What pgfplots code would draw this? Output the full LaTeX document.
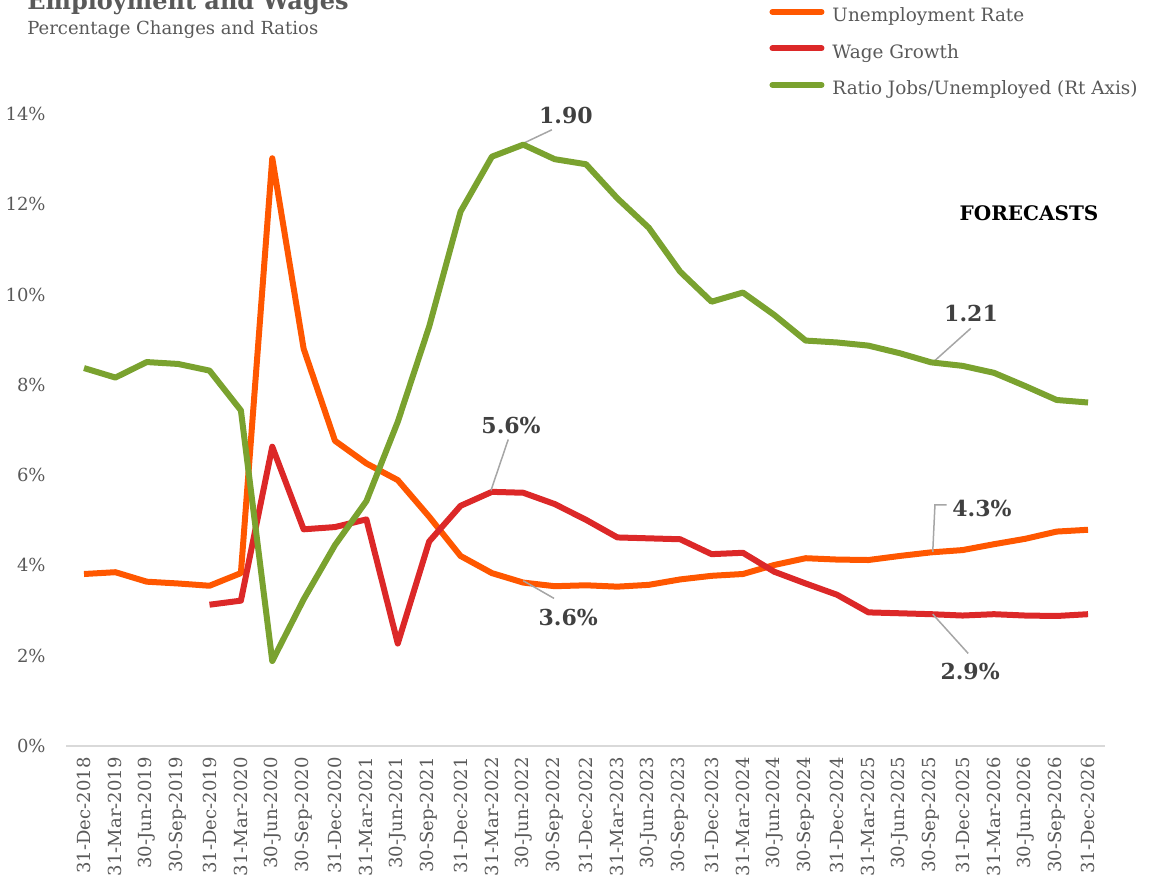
\documentclass[border=0pt]{standalone}
\usepackage{fontspec}
\setmainfont{DejaVu Serif}
\usepackage{pgfplots}
\pgfplotsset{compat=1.18}
\definecolor{unemp}{RGB}{255,87,0}
\definecolor{wage}{RGB}{220,40,40}
\definecolor{ratio}{RGB}{122,162,47}
\definecolor{txtgray}{RGB}{89,89,89}
\definecolor{axisgray}{RGB}{217,217,217}
\definecolor{leadgray}{RGB}{166,166,166}
\definecolor{lblgray}{RGB}{64,64,64}
\begin{document}
\begin{tikzpicture}
\useasboundingbox (0,0) rectangle (575pt,442.5pt);
\node[anchor=base west, inner sep=0pt, font=\bfseries\fontsize{12}{14}\selectfont, text=txtgray] at (13.5pt,437.5pt) {Employment and Wages};
\node[anchor=base west, inner sep=0pt, font=\fontsize{9}{11}\selectfont, text=txtgray] at (13.5pt,425pt) {Percentage Changes and Ratios};
\begin{axis}[
  at={(33pt,69.5pt)}, anchor=south west,
  scale only axis, width=519.5pt, height=316pt,
  xmin=-0.574, xmax=32.54, ymin=0, ymax=14,
  xtick={0,...,32},
  xticklabels={31-Dec-2018,31-Mar-2019,30-Jun-2019,30-Sep-2019,31-Dec-2019,31-Mar-2020,30-Jun-2020,30-Sep-2020,31-Dec-2020,31-Mar-2021,30-Jun-2021,30-Sep-2021,31-Dec-2021,31-Mar-2022,30-Jun-2022,30-Sep-2022,31-Dec-2022,31-Mar-2023,30-Jun-2023,30-Sep-2023,31-Dec-2023,31-Mar-2024,30-Jun-2024,30-Sep-2024,31-Dec-2024,31-Mar-2025,30-Jun-2025,30-Sep-2025,31-Dec-2025,31-Mar-2026,30-Jun-2026,30-Sep-2026,31-Dec-2026},
  ytick={0,2,...,14},
  yticklabel={\pgfmathprintnumber{\tick}\%},
  /pgf/number format/assume math mode=true,
  tick style={draw=none}, major tick length=0pt,
  axis x line*=bottom, axis y line*=left,
  x axis line style={-, draw=axisgray, line width=1pt},
  y axis line style={draw=none},
  xticklabel style={rotate=90, anchor=east, font=\fontsize{9}{10}\selectfont, text=txtgray, inner sep=0pt},
  xticklabel shift=5.5pt,
  yticklabel style={anchor=east, font=\fontsize{9}{10}\selectfont, text=txtgray, inner sep=0pt},
  yticklabel shift=10pt,
  clip=false,
  legend style={at={(0.6767,1.1685)}, anchor=north west, draw=none, fill=none, inner sep=0pt, row sep=9.25pt,
    font=\fontsize{9.2}{10}\selectfont, text=txtgray,
    nodes={inner sep=0pt, text height=7pt, text depth=2pt}},
  legend cell align=left,
  legend image code/.code={\draw[#1, line width=3pt, line cap=round] (1.5pt,2.5pt) -- (26pt,2.5pt); \path (30pt,2.5pt);},
]
\addplot[unemp, line width=3pt, line join=round] coordinates {
(0,3.81)(1,3.85)(2,3.64)(3,3.60)(4,3.55)(5,3.83)(6,13.02)(7,8.80)(8,6.76)(9,6.26)(10,5.89)
(11,5.08)(12,4.21)(13,3.83)(14,3.62)(15,3.54)(16,3.56)(17,3.53)(18,3.57)(19,3.69)(20,3.77)
(21,3.81)(22,4.01)(23,4.16)(24,4.13)(25,4.12)(26,4.21)(27,4.29)(28,4.34)(29,4.47)(30,4.59)
(31,4.75)(32,4.79)};
\addlegendentry{Unemployment Rate}
\addplot[wage, line width=3pt, line join=round] coordinates {
(4,3.13)(5,3.22)(6,6.63)(7,4.80)(8,4.85)(9,5.02)(10,2.27)(11,4.53)(12,5.32)(13,5.63)
(14,5.61)(15,5.36)(16,5.01)(17,4.62)(18,4.60)(19,4.58)(20,4.25)(21,4.28)(22,3.86)(23,3.60)
(24,3.35)(25,2.96)(26,2.94)(27,2.92)(28,2.89)(29,2.92)(30,2.89)(31,2.88)(32,2.92)};
\addlegendentry{Wage Growth}
\addlegendimage{ratio}
\addlegendentry{Ratio Jobs/Unemployed (Rt Axis)}
% annotations
\draw[leadgray, line width=0.75pt] (axis cs:14.0,13.35) -- (axis cs:14.91,13.65);
\node[font=\bfseries\fontsize{11}{12}\selectfont, text=lblgray] at (axis cs:15.36,13.96) {1.90};
\draw[leadgray, line width=0.75pt] (axis cs:12.97,5.66) -- (axis cs:13.52,6.79);
\node[font=\bfseries\fontsize{11}{12}\selectfont, text=lblgray] at (axis cs:13.61,7.11) {5.6\%};
\draw[leadgray, line width=0.75pt] (axis cs:14.0,3.66) -- (axis cs:14.98,3.27);
\node[font=\bfseries\fontsize{11}{12}\selectfont, text=lblgray] at (axis cs:15.43,2.84) {3.6\%};
\draw[leadgray, line width=0.75pt] (axis cs:27.04,8.49) -- (axis cs:28.26,9.25);
\node[font=\bfseries\fontsize{11}{12}\selectfont, text=lblgray] at (axis cs:28.27,9.59) {1.21};
\draw[leadgray, line width=0.75pt] (axis cs:27.05,4.30) -- (axis cs:27.12,5.34) -- (axis cs:27.49,5.34);
\node[font=\bfseries\fontsize{11}{12}\selectfont, text=lblgray] at (axis cs:28.62,5.27) {4.3\%};
\draw[leadgray, line width=0.75pt] (axis cs:27.05,2.92) -- (axis cs:28.18,2.05);
\node[font=\bfseries\fontsize{11}{12}\selectfont, text=lblgray] at (axis cs:28.24,1.66) {2.9\%};
\node[font=\bfseries\fontsize{10}{12}\selectfont, text=black] at (axis cs:30.12,11.81) {FORECASTS};
\end{axis}
\begin{axis}[
  at={(33pt,69.5pt)}, anchor=south west,
  scale only axis, width=519.5pt, height=316pt,
  xmin=-0.574, xmax=32.54, ymin=0, ymax=2,
  hide axis, clip=false,
]
\addplot[ratio, line width=3pt, line join=round] coordinates {
(0,1.196)(1,1.166)(2,1.215)(3,1.209)(4,1.188)(5,1.062)(6,0.269)(7,0.464)(8,0.636)(9,0.775)
(10,1.026)(11,1.327)(12,1.691)(13,1.865)(14,1.903)(15,1.857)(16,1.841)(17,1.733)(18,1.640)
(19,1.501)(20,1.406)(21,1.435)(22,1.364)(23,1.283)(24,1.277)(25,1.267)(26,1.243)(27,1.214)
(28,1.203)(29,1.181)(30,1.139)(31,1.095)(32,1.087)};
\end{axis}
\end{tikzpicture}
\end{document}
